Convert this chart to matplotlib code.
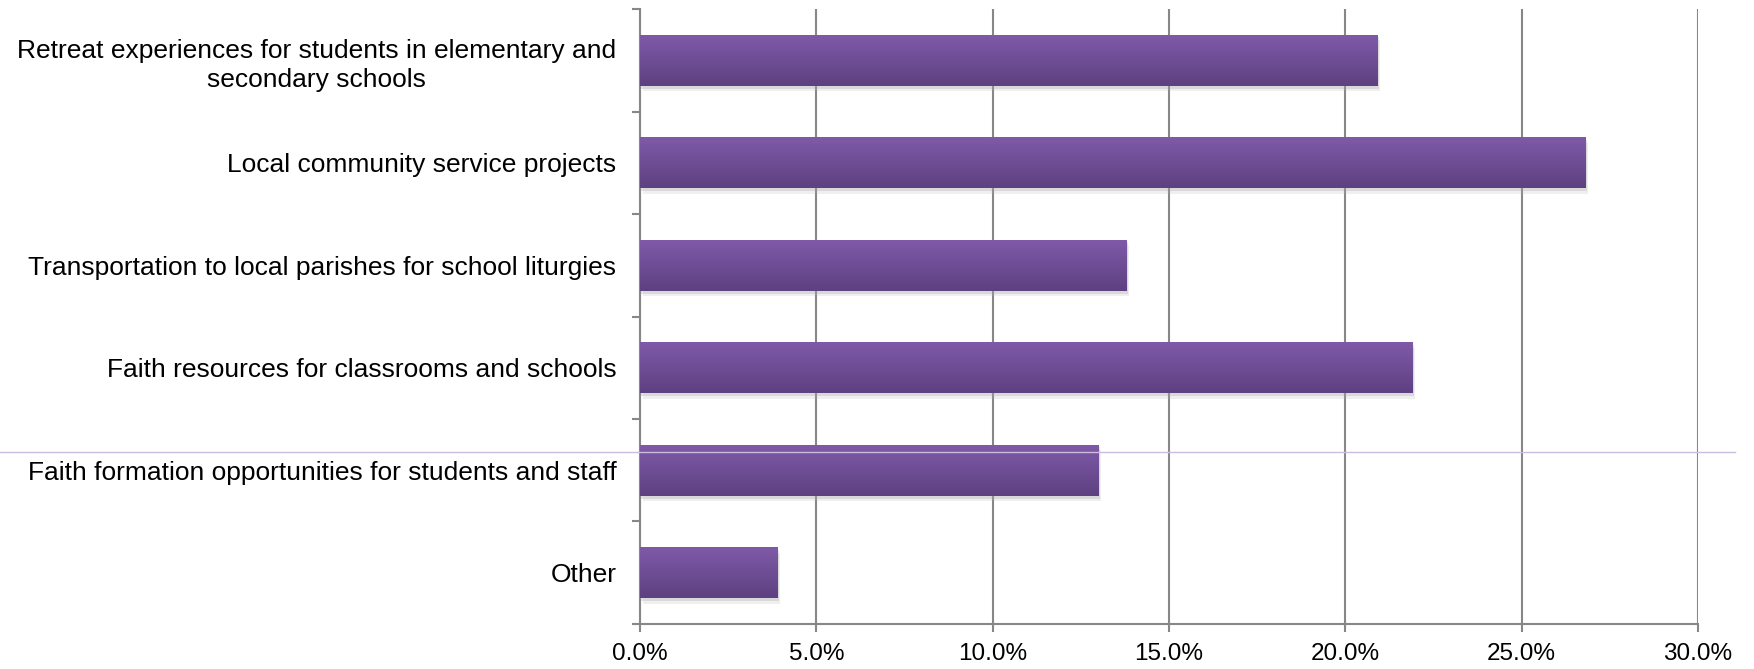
import numpy as np
import matplotlib.pyplot as plt
from matplotlib.colors import LinearSegmentedColormap
from matplotlib.lines import Line2D
from matplotlib import patheffects

categories = [
    'Retreat experiences for students in elementary and\nsecondary schools',
    'Local community service projects',
    'Transportation to local parishes for school liturgies',
    'Faith resources for classrooms and schools',
    'Faith formation opportunities for students and staff',
    'Other',
]
shares = [20.9, 26.8, 13.8, 21.9, 13.0, 3.9]
xticks = [0, 5, 10, 15, 20, 25, 30]
xtick_labels = ['0.0%', '5.0%', '10.0%', '15.0%', '20.0%', '25.0%', '30.0%']

AXIS_GREY = '#878787'
bar_cmap = LinearSegmentedColormap.from_list('purple_fade', ['#7f5aa9', '#5e4181'])

plt.rcParams['font.family'] = ['Liberation Sans', 'DejaVu Sans']

fig = plt.figure(figsize=(17.54, 6.69), dpi=100)
ax = fig.add_axes([0.3649, 0.0673, 0.6032, 0.9192])

ypos = np.arange(len(categories))
bar_h = 0.5
shadow = [patheffects.SimplePatchShadow(offset=(2, -4), shadow_rgbFace='#b0b0b0', alpha=0.2),
          patheffects.SimplePatchShadow(offset=(1, -2), shadow_rgbFace='#a0a0a0', alpha=0.28),
          patheffects.Normal()]
bars = ax.barh(ypos, shares, height=bar_h, color='#6d4d96', zorder=2, path_effects=shadow)

# vertical shading inside every bar
grad = np.linspace(0, 1, 64).reshape(-1, 1)
for rect, y, v in zip(bars, ypos, shares):
    im = ax.imshow(grad, cmap=bar_cmap, aspect='auto', zorder=3,
                   extent=(0, v, y + bar_h / 2, y - bar_h / 2), interpolation='bilinear')
    im.set_clip_path(rect)

ax.set_xlim(0, 30)
ax.set_ylim(len(categories) - 0.5, -0.5)

ax.set_xticks(xticks)
ax.set_xticklabels(xtick_labels, fontsize=17.5)
ax.tick_params(axis='x', direction='out', length=6, width=1.5, color=AXIS_GREY, pad=8)

ax.set_yticks(np.arange(len(categories) + 1) - 0.5)
ax.set_yticklabels([])
ax.set_yticks(ypos, minor=True)
ax.set_yticklabels(categories, minor=True, fontsize=19, multialignment='center', linespacing=1.25)
ax.tick_params(axis='y', which='major', direction='out', length=6, width=1.5, color=AXIS_GREY)
ax.tick_params(axis='y', which='minor', length=0, pad=17)

ax.xaxis.grid(True, color=AXIS_GREY, lw=1.5)
ax.set_axisbelow(True)
for side in ('top', 'right'):
    ax.spines[side].set_visible(False)
for side in ('left', 'bottom'):
    ax.spines[side].set_color(AXIS_GREY)
    ax.spines[side].set_linewidth(1.5)

# thin lavender rule running across the page
fig.add_artist(Line2D([0, 0.989], [1 - 452 / 669] * 2, transform=fig.transFigure,
                      color='#cbbde0', lw=1, zorder=10))

fig.savefig('out.png', dpi=100)
